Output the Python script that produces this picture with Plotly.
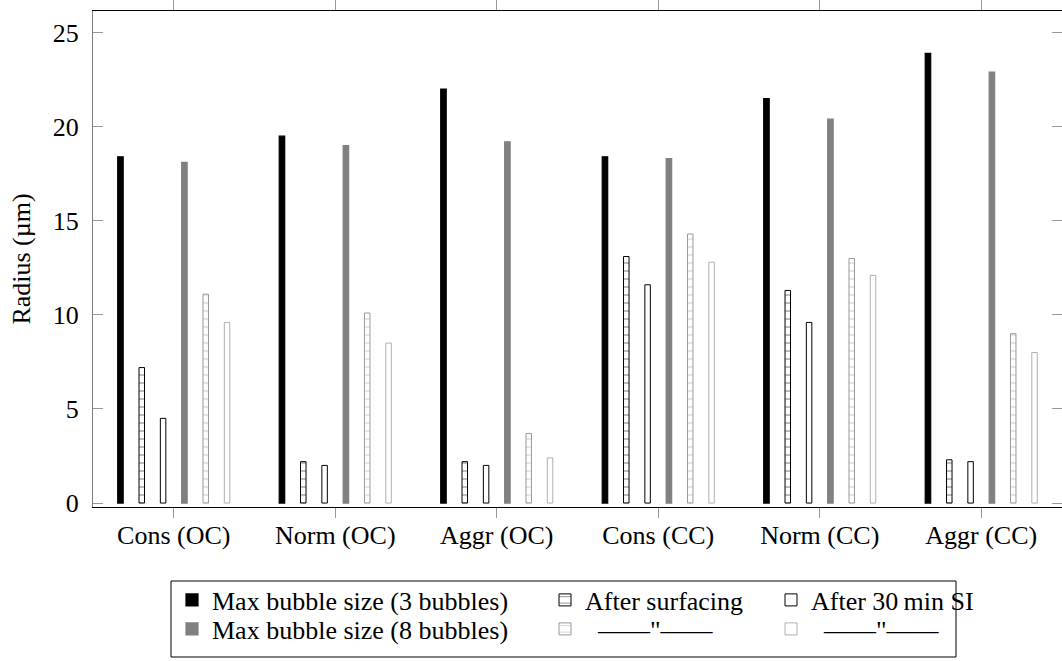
import plotly.graph_objects as go

categories = ["Cons (OC)", "Norm (OC)", "Aggr (OC)", "Cons (CC)", "Norm (CC)", "Aggr (CC)"]

max3 = [18.4, 19.5, 22.0, 18.4, 21.5, 23.9]
surf3 = [7.2, 2.2, 2.2, 13.1, 11.3, 2.3]
si3 = [4.5, 2.0, 2.0, 11.6, 9.6, 2.2]
max8 = [18.1, 19.0, 19.2, 18.3, 20.4, 22.9]
surf8 = [11.1, 10.1, 3.7, 14.3, 13.0, 9.0]
si8 = [9.6, 8.5, 2.4, 12.8, 12.1, 8.0]

names = ["Max bubble size (3 bubbles)", "After surfacing", "After 30\u2009min SI",
         "Max bubble size (8 bubbles)", "\u00a0\u00a0\u2014\u2014\"\u2014\u2014", "\u00a0\u00a0\u2014\u2014\"\u2014\u2014"]

FONT = "Liberation Serif"
W = 1062
H = 661
L, R, T = 93, 0, 11
PH = 496
B = H - T - PH
PW = W - L - R

bw = 0.034
centers = [-0.33, -0.198, -0.066, 0.066, 0.198, 0.33]

styles = [
    dict(color="black", line=dict(color="black", width=1.2)),
    dict(color="white", line=dict(color="black", width=1),
         pattern=dict(shape="-", fgcolor="black", bgcolor="white", size=8, solidity=0.13)),
    dict(color="white", line=dict(color="black", width=1)),
    dict(color="#808080", line=dict(color="#808080", width=1.2)),
    dict(color="white", line=dict(color="#9a9a9a", width=1),
         pattern=dict(shape="-", fgcolor="#9a9a9a", bgcolor="white", size=8, solidity=0.13)),
    dict(color="white", line=dict(color="#b0b0b0", width=1)),
]
series = [max3, surf3, si3, max8, surf8, si8]
legend_ids = ["legend", "legend2", "legend3", "legend4", "legend5", "legend6"]

fig = go.Figure()
for k, (vals, st) in enumerate(zip(series, styles)):
    fig.add_trace(go.Bar(
        x=categories, y=vals, name=names[k], marker=st,
        width=bw, offset=centers[k] - bw / 2,
        legend=legend_ids[k], showlegend=True,
    ))

def px2x(px):
    return (px - L) / PW

def py2y(py):
    return (T + PH - py) / PH

# legend anchor positions (page pixels): left of item, vertical center
leg_pos = {
    "legend": (172, 600), "legend2": (545, 600), "legend3": (771, 600),
    "legend4": (172, 629), "legend5": (545, 629), "legend6": (771, 629),
}
legend_layout = {}
for lid, (lx, ly) in leg_pos.items():
    legend_layout[lid] = dict(
        x=px2x(lx), y=py2y(ly), xanchor="left", yanchor="middle",
        xref="paper", yref="paper",
        font=dict(family=FONT, size=26, color="black"),
        bgcolor="rgba(0,0,0,0)", borderwidth=0, itemwidth=30,
    )

fig.update_layout(
    width=W, height=H, autosize=False,
    margin=dict(l=L, r=R, t=T, b=B, pad=0, autoexpand=False),
    plot_bgcolor="white", paper_bgcolor="white",
    barmode="overlay",
    font=dict(family=FONT, size=26, color="black"),
    **legend_layout,
)

fig.update_xaxes(
    range=[-0.5, 5.5], showgrid=False, zeroline=False,
    showline=True, linecolor="black", linewidth=1.2, mirror="ticks",
    ticks="outside", ticklen=10, tickcolor="#999999", tickwidth=1,
    tickfont=dict(family=FONT, size=26, color="black"),
    ticklabelstandoff=-5,
)
fig.update_yaxes(
    range=[-0.21, 26.15], showgrid=False, zeroline=False,
    showline=True, linecolor="#808080", linewidth=1.2, mirror="ticks",
    ticks="inside", ticklen=10, tickcolor="#999999", tickwidth=1,
    tickvals=[0, 5, 10, 15, 20, 25],
    tickfont=dict(family=FONT, size=26, color="black"),
    ticklabelstandoff=8,
    title=dict(text="Radius (\u00b5m)", font=dict(family=FONT, size=26, color="black"), standoff=14),
)

fig.add_shape(type="rect", xref="paper", yref="paper",
              x0=px2x(171), x1=px2x(956), y0=py2y(657), y1=py2y(581),
              line=dict(color="black", width=1), fillcolor="rgba(0,0,0,0)", layer="above")

fig.write_html("out.html", config={"displayModeBar": False},
               post_script="document.body.style.margin='0';document.body.style.overflow='hidden';")
